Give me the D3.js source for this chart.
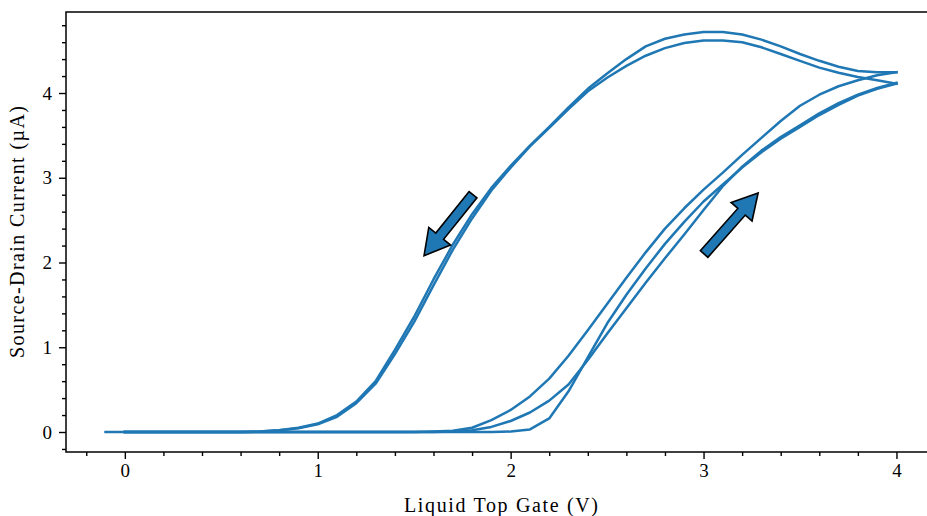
<!DOCTYPE html>
<html>
<head>
<meta charset="utf-8">
<script src="https://cdn.jsdelivr.net/npm/d3@7/dist/d3.min.js"></script>
<style>
  html, body { margin: 0; padding: 0; background: #fff; }
  svg text { font-family: "Liberation Serif", "Times New Roman", serif; fill: #000; }
</style>
</head>
<body>
<svg id="chart" width="927" height="516"></svg>
<script>
// ---------------- data ----------------
const gate = [0.0,0.1,0.2,0.3,0.4,0.5,0.6,0.7,0.8,0.9,1.0,1.1,1.2,1.3,1.4,1.5,1.6,1.7,1.8,1.9,2.0,
              2.1,2.2,2.3,2.4,2.5,2.6,2.7,2.8,2.9,3.0,3.1,3.2,3.3,3.4,3.5,3.6,3.7,3.8,3.9,4.0];
const firstSweepStart = [-0.1, 0.0];   // first sweep begins at -0.1 V

// forward sweeps (increasing gate voltage), current in µA
const up1 = [0,0,0,0,0,0,0,0,0,0,0,0,0,0,0,0,0,0,0,0,0.005,
             0.03,0.16,0.48,0.88,1.28,1.62,1.93,2.22,2.48,2.72,2.92,3.12,3.30,3.46,3.60,3.74,3.86,3.97,4.05,4.11];
const up2 = [0,0,0,0,0,0,0,0,0,0,0,0,0,0,0,0,0,0.005,0.02,0.06,0.13,
             0.23,0.37,0.56,0.85,1.16,1.46,1.76,2.05,2.33,2.62,2.90,3.13,3.32,3.48,3.62,3.76,3.88,3.98,4.06,4.12];
const up3 = [0,0,0,0,0,0,0,0,0,0,0,0,0,0,0,0,0.005,0.015,0.05,0.14,0.26,
             0.42,0.63,0.90,1.20,1.51,1.82,2.12,2.40,2.64,2.86,3.06,3.27,3.47,3.67,3.85,3.98,4.08,4.15,4.21,4.245];
// backward sweeps (listed in increasing gate order)
const down1 = [0,0,0,0,0,0,0,0.005,0.02,0.05,0.10,0.20,0.36,0.60,0.97,1.36,1.80,2.21,2.57,2.88,3.14,
               3.38,3.60,3.83,4.05,4.23,4.40,4.55,4.64,4.69,4.72,4.72,4.69,4.63,4.55,4.46,4.38,4.31,4.26,4.245,4.245];
const down2 = [0,0,0,0,0,0,0,0.005,0.02,0.045,0.09,0.18,0.34,0.57,0.92,1.30,1.73,2.15,2.52,2.85,3.12,
               3.37,3.59,3.81,4.02,4.18,4.32,4.44,4.53,4.59,4.62,4.62,4.60,4.54,4.46,4.38,4.30,4.24,4.19,4.15,4.11];

// sweep direction arrows: [gate, current]
const arrowTails = [[1.805, 2.80], [3.003, 2.10]];
const arrowTips  = [[1.551, 2.08], [3.283, 2.82]];

const xMajor = [0, 1, 2, 3, 4];
const yMajor = [0, 1, 2, 3, 4];
const xMinor = [-0.2,0.2,0.4,0.6,0.8,1.2,1.4,1.6,1.8,2.2,2.4,2.6,2.8,3.2,3.4,3.6,3.8,4.2];
const yMinor = [-0.2,0.2,0.4,0.6,0.8,1.2,1.4,1.6,1.8,2.2,2.4,2.6,2.8,3.2,3.4,3.6,3.8,4.2,4.4,4.6,4.8];

const xLabel = "Liquid Top Gate (V)";
const yLabel = "Source-Drain Current (\u00B5A)";

// ---------------- layout ----------------
const L = 66, R = 936, T = 12, B = 452;
const color = "#1f77b4";
const svg = d3.select("#chart");

const x = d3.scaleLinear().domain([-0.305, 4.205]).range([L, R]);
const y = d3.scaleLinear().domain([-0.236, 4.956]).range([B, T]);

const toPts = (vs, is) => vs.map((v, k) => [v, is[k]]);
const sweeps = [
  toPts([firstSweepStart[0]].concat(gate), [0].concat(up1)),
  toPts(gate, down2).reverse(),
  toPts(gate, up2),
  toPts(gate, down1).reverse(),
  toPts(gate, up3)
];

svg.append("clipPath").attr("id", "pc").append("rect")
  .attr("x", L).attr("y", T).attr("width", R - L).attr("height", B - T);

const line = d3.line().x(d => x(d[0])).y(d => y(d[1]));
svg.append("g").attr("clip-path", "url(#pc)")
  .selectAll("path").data(sweeps).join("path")
  .attr("d", line)
  .attr("fill", "none")
  .attr("stroke", color)
  .attr("stroke-width", 2.5)
  .attr("stroke-linejoin", "round")
  .attr("stroke-linecap", "square");

// arrows
const headLen = 25, headHalf = 14, shaftHalf = 5;
const arrowPoly = (tail, tip) => {
  const tx = x(tail[0]), ty = y(tail[1]), px = x(tip[0]), py = y(tip[1]);
  const dx = px - tx, dy = py - ty, len = Math.hypot(dx, dy);
  const ux = dx / len, uy = dy / len, nx = -uy, ny = ux;
  const bx = px - ux * headLen, by = py - uy * headLen;
  return [
    [tx + nx * shaftHalf, ty + ny * shaftHalf],
    [bx + nx * shaftHalf, by + ny * shaftHalf],
    [bx + nx * headHalf, by + ny * headHalf],
    [px, py],
    [bx - nx * headHalf, by - ny * headHalf],
    [bx - nx * shaftHalf, by - ny * shaftHalf],
    [tx - nx * shaftHalf, ty - ny * shaftHalf]
  ];
};
svg.append("g").selectAll("polygon").data(arrowTails).join("polygon")
  .attr("points", (d, k) => arrowPoly(d, arrowTips[k]).map(p => p.join(",")).join(" "))
  .attr("fill", color)
  .attr("stroke", "#000")
  .attr("stroke-width", 1.6)
  .attr("stroke-linejoin", "miter");

// axes
const fontSize = 19;
const xAxis = d3.axisBottom(x).tickValues(xMajor).tickSize(7).tickPadding(5).tickFormat(d3.format("d"));
const xAxisMinor = d3.axisBottom(x).tickValues(xMinor).tickSize(4).tickFormat("");
const yAxis = d3.axisLeft(y).tickValues(yMajor).tickSize(7).tickPadding(7).tickFormat(d3.format("d"));
const yAxisMinor = d3.axisLeft(y).tickValues(yMinor).tickSize(4).tickFormat("");

function style(g) {
  g.select(".domain").remove();
  g.selectAll(".tick line").attr("stroke", "#000").attr("stroke-width", 1.4);
  g.selectAll("text").attr("font-size", fontSize).attr("font-family", "Liberation Serif, serif").attr("fill", "#000");
}
svg.append("g").attr("transform", `translate(0,${B})`).call(xAxis).call(style);
svg.append("g").attr("transform", `translate(0,${B})`).call(xAxisMinor).call(style);
svg.append("g").attr("transform", `translate(${L},0)`).call(yAxis).call(style);
svg.append("g").attr("transform", `translate(${L},0)`).call(yAxisMinor).call(style);

// frame
svg.append("rect").attr("x", L).attr("y", T).attr("width", R - L).attr("height", B - T)
  .attr("fill", "none").attr("stroke", "#000").attr("stroke-width", 1.5);

// axis labels
svg.append("text").attr("x", (L + R) / 2).attr("y", 512)
  .attr("text-anchor", "middle").attr("font-size", 20)
  .attr("textLength", 194).attr("lengthAdjust", "spacing").text(xLabel);
svg.append("text").attr("transform", `translate(24,${(T + B) / 2}) rotate(-90)`)
  .attr("text-anchor", "middle").attr("font-size", 20)
  .attr("textLength", 252).attr("lengthAdjust", "spacing").text(yLabel);
</script>
</body>
</html>
